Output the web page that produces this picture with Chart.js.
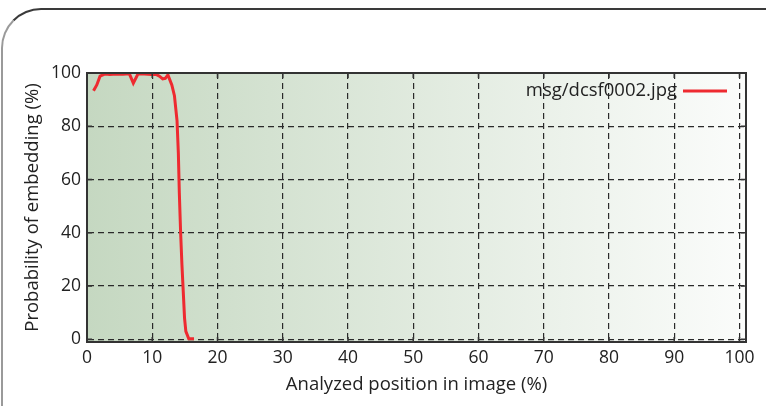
<!DOCTYPE html>
<html>
<head>
<meta charset="utf-8">
<script src="https://cdn.jsdelivr.net/npm/chart.js@4/dist/chart.umd.min.js"></script>
<style>
  html, body { margin: 0; padding: 0; background: #fff; }
  #wrap { position: relative; width: 766px; height: 406px; overflow: hidden; }
  #frame {
    position: absolute; left: 1px; top: 8px; width: 820px; height: 460px;
    border-top: 2px solid #3a3a3a; border-left: 2px solid #9a9a9a;
    border-top-left-radius: 40px;
  }
  canvas { position: absolute; left: 0; top: 0; }
</style>
</head>
<body>
<div id="wrap">
  <div id="frame"></div>
  <canvas id="chart" width="766" height="406"></canvas>
</div>
<script>
"use strict";

// analyzed position in image (%) and probability of embedding (%)
const positions = [1.0, 1.5, 2.0, 2.7, 3.5, 4.5, 5.5, 6.5, 7.1, 7.8, 8.8, 9.9, 10.6, 11.1, 11.6, 12.0, 12.4,
  13.0, 13.4, 13.8, 14.0, 14.15, 14.35, 14.55, 14.75, 14.95, 15.15, 15.6, 16.4];
const probabilities = [93.3, 95.5, 98.8, 99.6, 99.4, 99.6, 99.5, 99.7, 96.2, 99.6, 99.6, 99.4, 99.5, 98.8, 97.8, 98.0, 99.3,
  95.5, 91.5, 82, 70, 55, 40, 28, 18, 8, 3, 0.2, 0.2];
const seriesLabel = "msg/dcsf0002.jpg";
const xTicks = [0, 10, 20, 30, 40, 50, 60, 70, 80, 90, 100];
const yTicks = [0, 20, 40, 60, 80, 100];

const FONT = "'Open Sans', sans-serif";
const INK = "#222";

const backgroundPlugin = {
  id: "plotBackground",
  beforeDraw(chart) {
    const { ctx, chartArea: a } = chart;
    const grad = ctx.createLinearGradient(a.left, 0, a.right, 0);
    grad.addColorStop(0, "#c5d8c1");
    grad.addColorStop(1, "#fbfcfb");
    ctx.save();
    ctx.fillStyle = grad;
    ctx.fillRect(a.left, a.top, a.right - a.left, a.bottom - a.top);
    ctx.restore();
  },
};

const framePlugin = {
  id: "plotFrame",
  afterDatasetsDraw(chart) {
    const { ctx, chartArea: a, scales } = chart;
    ctx.save();
    ctx.strokeStyle = "#333";
    ctx.lineWidth = 1.5;
    ctx.setLineDash([]);
    ctx.beginPath();
    xTicks.forEach((v) => {
      const px = scales.x.getPixelForValue(v);
      ctx.moveTo(px, a.top);
      ctx.lineTo(px, a.top + 5);
      ctx.moveTo(px, a.bottom);
      ctx.lineTo(px, a.bottom - 5);
    });
    yTicks.forEach((v) => {
      const py = scales.y.getPixelForValue(v);
      ctx.moveTo(a.left, py);
      ctx.lineTo(a.left + 5, py);
      ctx.moveTo(a.right, py);
      ctx.lineTo(a.right - 5, py);
    });
    ctx.stroke();
    ctx.lineWidth = 2;
    ctx.strokeRect(a.left, a.top, a.right - a.left, a.bottom - a.top);

    // legend inside the plot, top right
    const ds = chart.data.datasets[0];
    const y = a.top + 18;
    ctx.font = "18.5px " + FONT;
    ctx.fillStyle = INK;
    ctx.textAlign = "right";
    ctx.textBaseline = "middle";
    ctx.fillText(ds.label, 677, y);
    ctx.strokeStyle = ds.borderColor;
    ctx.lineWidth = 3;
    ctx.beginPath();
    ctx.moveTo(683, y);
    ctx.lineTo(727, y);
    ctx.stroke();
    ctx.restore();
  },
};

const ctx = document.getElementById("chart").getContext("2d");

new Chart(ctx, {
  type: "line",
  data: {
    datasets: [
      {
        label: seriesLabel,
        data: positions.map((x, i) => ({ x: x, y: probabilities[i] })),
        borderColor: "#ee2a30",
        borderWidth: 3,
        pointRadius: 0,
        tension: 0,
        fill: false,
      },
    ],
  },
  options: {
    responsive: false,
    animation: false,
    layout: {
      padding: { top: 73, right: 20, bottom: 10, left: 22 },
    },
    scales: {
      x: {
        type: "linear",
        min: 0,
        max: 101,
        afterFit(scale) { scale.height = 54; },
        afterBuildTicks(scale) { scale.ticks = xTicks.map((v) => ({ value: v })); },
        ticks: {
          autoSkip: false,
          maxRotation: 0,
          padding: 6,
          color: INK,
          font: { family: FONT, size: 17.5 },
        },
        grid: { color: "#2a2a2a", lineWidth: 1.2, drawTicks: false },
        border: { display: true, color: "#333", width: 2, dash: [6, 4] },
        title: {
          display: true,
          text: "Analyzed position in image (%)",
          color: INK,
          padding: 0,
          font: { family: FONT, size: 18.5 },
        },
      },
      y: {
        type: "linear",
        min: -1,
        max: 100,
        afterFit(scale) { scale.width = 65; },
        afterBuildTicks(scale) { scale.ticks = yTicks.map((v) => ({ value: v })); },
        ticks: {
          autoSkip: false,
          padding: 6,
          color: INK,
          font: { family: FONT, size: 17.5 },
        },
        grid: { color: "#2a2a2a", lineWidth: 1.2, drawTicks: false },
        border: { display: true, color: "#333", width: 2, dash: [6, 4] },
        title: {
          display: true,
          text: "Probability of embedding (%)",
          color: INK,
          padding: 0,
          font: { family: FONT, size: 18.5 },
        },
      },
    },
    plugins: {
      legend: { display: false },
      tooltip: { enabled: false },
    },
  },
  plugins: [backgroundPlugin, framePlugin],
});
</script>
</body>
</html>
